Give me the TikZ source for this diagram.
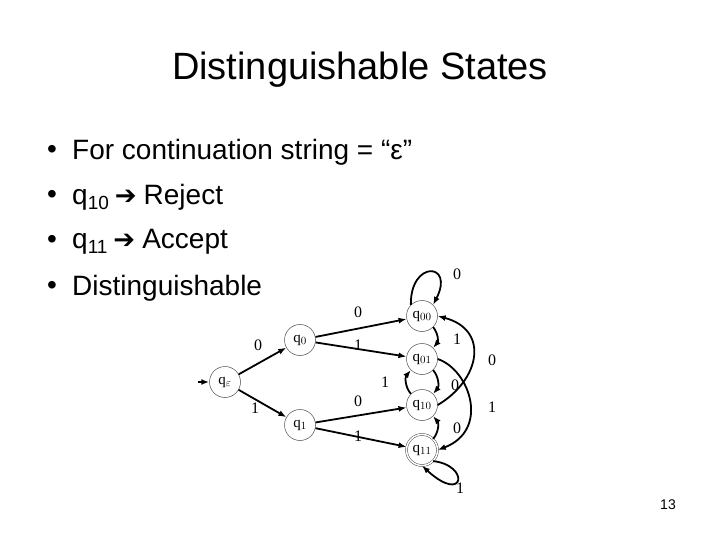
\documentclass[tikz,border=0pt]{standalone}
\usepackage{fontspec}
\setmainfont{Liberation Serif}
\newfontfamily\arial{Liberation Sans}
\newfontfamily\djv{DejaVu Sans}
\usetikzlibrary{arrows.meta}
\newcommand{\sbs}[1]{\raisebox{-5pt}{\fontsize{19}{19}\selectfont #1}}
\newcommand{\harr}{\hspace{6pt}{\djv\fontsize{26}{26}\selectfont\char"2794}\hspace{7pt}}
\begin{document}
\begin{tikzpicture}[x=1pt,y=-1pt,
  st/.style={circle,draw=black!70,line width=0.5pt,minimum size=31pt,inner sep=0pt,font=\fontsize{15}{15}\selectfont},
  acc/.style={st,double,double distance=1.5pt},
  ed/.style={line width=1.8pt,-{Latex[length=8pt,width=6pt]}},
  lb/.style={font=\fontsize{16}{16}\selectfont,inner sep=0pt},
  bl/.style={font=\arial\fontsize{28}{28}\selectfont,anchor=west,inner sep=0pt}]
\useasboundingbox (0,0) rectangle (720,540);
\node[font=\arial\fontsize{38}{38}\selectfont] (title) at (360,70) {Distinguishable States};
\foreach \y/\t [count=\i] in {152/{For continuation string = “ε”},197/{q\sbs{10}\harr Reject},242/{q\sbs{11}\harr Accept},288/{Distinguishable}}{
  \node[bl] (b\i) at (72,\y) {\t};
  \node[font=\arial\fontsize{28}{28}\selectfont,inner sep=0pt] (d\i) at (52,\y) {\textbullet};
}
\node[st] (qe) at (225,382) {q$_\varepsilon$};
\node[st] (q0) at (300,340) {q$_0$};
\node[st] (q1) at (300,425) {q$_1$};
\node[st] (q00) at (422,316) {q$_{00}$};
\node[st] (q01) at (422,359) {q$_{01}$};
\node[st] (q10) at (422,405) {q$_{10}$};
\node[acc] (q11) at (422,450) {q$_{11}$};
\coordinate (s) at (198,382);
\draw[ed] (s) -- (qe);
\draw[ed] (qe) -- (q0); \node[lb] (l1) at (258,345) {0};
\draw[ed] (qe) -- (q1); \node[lb] (l2) at (255,408) {1};
\draw[ed] (q0) -- (q00); \node[lb] (l3) at (358,312) {0};
\draw[ed] (q0) -- (q01); \node[lb] (l4) at (358,345) {1};
\draw[ed] (q1) -- (q10); \node[lb] (l5) at (358,401) {0};
\draw[ed] (q1) -- (q11); \node[lb] (l6) at (358,436) {1};
\draw[ed] (q00.north west) .. controls (410,260) and (455,262) .. (q00.north east);
\node[lb] (l7) at (457,274) {0};
\draw[ed] (q00.south east) to[bend left=40] (q01.north east); \node[lb] (l8) at (457,339) {1};
\draw[ed] (q01.south east) to[bend left=40] (q10.north east); \node[lb] (l9) at (455,385) {0};
\draw[ed] (q10.north west) to[bend left=40] (q01.south west); \node[lb] (l10) at (385,382) {1};
\draw[ed] (q11.north east) to[bend right=40] (q10.south east); \node[lb] (l11) at (457,428) {0};
\draw[ed] (q10.east) .. controls (480,380) and (490,330) .. (q00.east); \node[lb] (l12) at (492,360) {0};
\draw[ed] (q01.east) .. controls (470,370) and (490,430) .. (q11.east); \node[lb] (l13) at (492,407) {1};
\draw[ed] (q11.south east) .. controls (470,465) and (465,505) .. (q11.south); \node[lb] (l14) at (460,488) {1};
\node[font=\arial\fontsize{14}{14}\selectfont] (pg) at (668,505) {13};
\end{tikzpicture}
\end{document}
